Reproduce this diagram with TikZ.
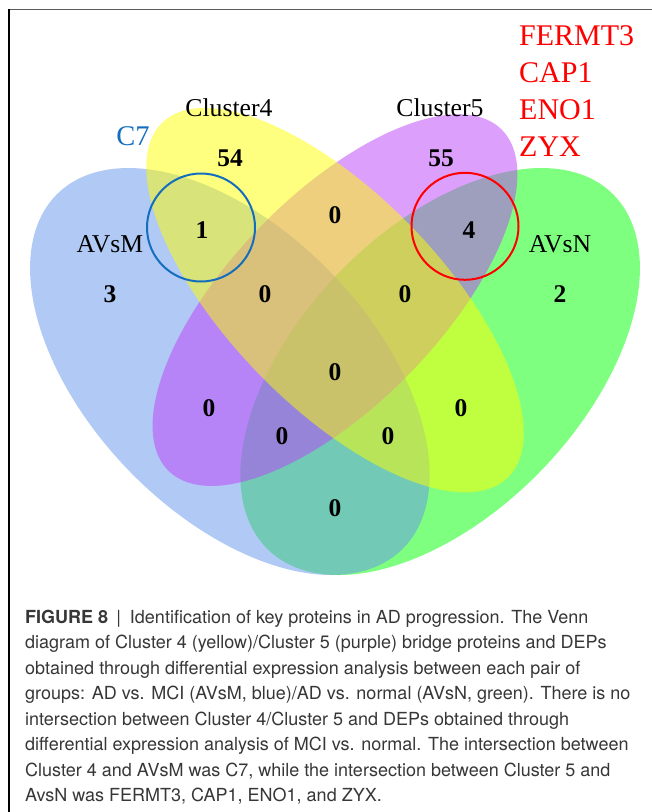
\documentclass[tikz,border=0pt]{standalone}
\usepackage{fontspec}
\setmainfont{Liberation Serif}
\newfontfamily\capfont{TeX Gyre Heros}
\definecolor{vgreen}{RGB}{0,255,0}
\definecolor{vblue}{RGB}{100,149,237}
\definecolor{vpurple}{RGB}{188,64,250}
\definecolor{vyellow}{RGB}{255,255,0}
\definecolor{c7blue}{RGB}{20,110,190}
\definecolor{genered}{RGB}{255,0,0}
\definecolor{captext}{RGB}{55,55,55}
\definecolor{framegray}{RGB}{90,90,90}
\newcommand{\vennshape}[5]{%
  plot[domain=0:360,samples=181]
  ({#1+#3*cos(\x)*cos(#5)-#4*sin(\x)*sin(#5)},
   {#2+#3*cos(\x)*sin(#5)+#4*sin(\x)*cos(#5)}) -- cycle}
\tikzset{
  setfill/.style={fill=#1, fill opacity=0.5, draw=none},
  numlab/.style={font=\bfseries\fontsize{25.5}{30}\selectfont, inner sep=0pt},
  setlab/.style={font=\fontsize{25.7}{30}\selectfont, inner sep=0pt},
  genelab/.style={font=\fontsize{30}{36}\selectfont, text=genered, inner sep=0pt, anchor=base west},
  ringline/.style={line width=2pt}
}
\begin{document}
\begin{tikzpicture}[x=1pt,y=-1pt]
\useasboundingbox (0,0) rectangle (652,812);
\fill[white] (0,0) rectangle (652,812);
% frame
\draw[framegray, line width=1.5pt] (8,9.5) -- (652,9.5);
\draw[black, line width=1.2pt] (9,9) -- (9,812);
% Venn ellipses (unit coordinates)
\begin{scope}[shift={(-15.5,707.1)}, x=701pt, y=714pt]
  \fill[setfill=vgreen]  \vennshape{0.65}{0.47}{0.35}{0.20}{45};
  \fill[setfill=vblue]   \vennshape{0.35}{0.47}{0.35}{0.20}{135};
  \fill[setfill=vpurple] \vennshape{0.50}{0.57}{0.337}{0.148}{45};
  \fill[setfill=vyellow] \vennshape{0.50}{0.57}{0.35}{0.15}{135};
\end{scope}
% highlight rings
\draw[c7blue, ringline] (201,227.5) circle[radius=54];
\draw[genered, ringline] (465,226.3) circle[radius=53.5];
% set labels
\node[setlab] (cl4) at (229,108) {Cluster4};
\node[setlab] (cl5) at (440,108) {Cluster5};
\node[setlab] (avsm) at (110,244) {AVsM};
\node[setlab] (avsn) at (560,244) {AVsN};
\node[font=\fontsize{28.5}{34}\selectfont, text=c7blue, inner sep=0pt] (c7) at (133,136) {C7};
% gene list
\node[genelab] (g1) at (519,45) {FERMT3};
\node[genelab] (g2) at (519,82.2) {CAP1};
\node[genelab] (g3) at (519,119.4) {ENO1};
\node[genelab] (g4) at (519,156.6) {ZYX};
% region counts
\node[numlab] (n54) at (230,158) {54};
\node[numlab] (n55) at (441,158) {55};
\node[numlab] (n1) at (202,230) {1};
\node[numlab] (n0a) at (335,215) {0};
\node[numlab] (n4) at (469,230) {4};
\node[numlab] (n3) at (110,294) {3};
\node[numlab] (n0b) at (265,294) {0};
\node[numlab] (n0c) at (405,294) {0};
\node[numlab] (n2) at (560,294) {2};
\node[numlab] (n0d) at (335,372) {0};
\node[numlab] (n0e) at (209,408) {0};
\node[numlab] (n0f) at (461,408) {0};
\node[numlab] (n0g) at (282,436) {0};
\node[numlab] (n0h) at (388,436) {0};
\node[numlab] (n0i) at (335,508) {0};
% caption
\node[anchor=base west, inner sep=0pt, text=captext, font=\capfont\fontsize{18}{25.5}\selectfont] (caption) at (25,623)
{\parbox[t]{630pt}{\raggedright
\textbf{FIGURE 8}\hspace{0.45em}|\hspace{0.5em}Identification of key proteins in AD progression. The Venn\\
diagram of Cluster 4 (yellow)/Cluster 5 (purple) bridge proteins and DEPs\\
obtained through differential expression analysis between each pair of\\
groups: AD vs. MCI (AVsM, blue)/AD vs. normal (AVsN, green). There is no\\
intersection between Cluster 4/Cluster 5 and DEPs obtained through\\
differential expression analysis of MCI vs. normal. The intersection between\\
Cluster 4 and AVsM was C7, while the intersection between Cluster 5 and\\
AvsN was FERMT3, CAP1, ENO1, and ZYX.}};
\end{tikzpicture}
\end{document}
